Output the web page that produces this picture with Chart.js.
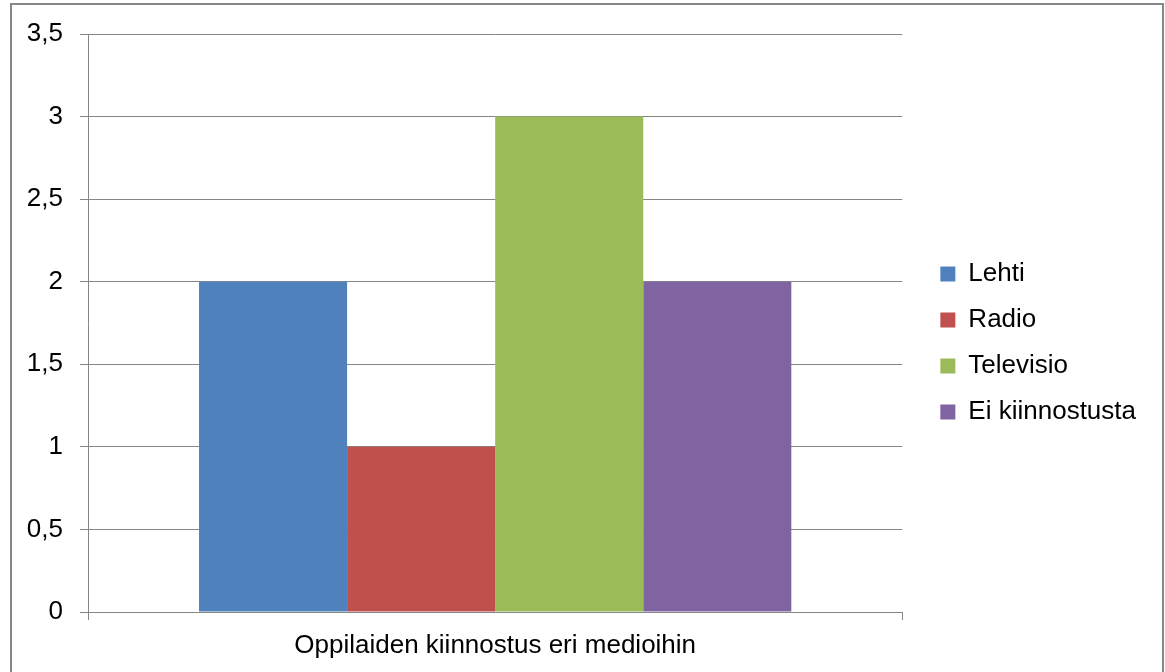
<!DOCTYPE html>
<html>
<head>
<meta charset="utf-8">
<script src="https://cdn.jsdelivr.net/npm/chart.js@4/dist/chart.umd.min.js"></script>
<style>
  html, body { margin: 0; padding: 0; background: #fff; }
  #wrap { position: relative; width: 1165px; height: 672px; overflow: hidden; }
  #frame { position: absolute; left: 10px; top: 3px; width: 1150px; height: 720px; border: 2px solid #878787; pointer-events: none; }
  canvas { position: absolute; left: 0; top: 0; }
</style>
</head>
<body>
<div id="wrap">
  <canvas id="chart" width="1165" height="672"></canvas>
  <div id="frame"></div>
</div>
<script>
const categories = ['Oppilaiden kiinnostus eri medioihin'];
const seriesNames = ['Lehti', 'Radio', 'Televisio', 'Ei kiinnostusta'];
const seriesValues = [[2], [1], [3], [2]];
const seriesColors = ['#4F81BD', '#C0504D', '#9BBB59', '#8064A2'];
const yTickLabels = ['0', '0,5', '1', '1,5', '2', '2,5', '3', '3,5'];

document.addEventListener('DOMContentLoaded', () => {
    const font = { family: "'Liberation Sans', Arial, sans-serif", size: 26 };
    const gridColor = '#868686';

    // move the legend a little, Chart.js puts it flush to the plot
    const legendShift = {
        id: 'legendShift',
        afterLayout(chart) {
            const lg = chart.legend;
            if (!lg) return;
            lg.left += 18; lg.right += 18;
            lg.top -= 10; lg.bottom -= 10;
        }
    };

    new Chart(document.getElementById('chart').getContext('2d'), {
        type: 'bar',
        data: {
            labels: categories,
            datasets: seriesNames.map((name, i) => ({
                label: name,
                data: seriesValues[i],
                backgroundColor: seriesColors[i],
                borderWidth: 0,
                categoryPercentage: 0.7273,
                barPercentage: 1.0
            }))
        },
        options: {
            responsive: false,
            animation: false,
            layout: { padding: { top: 34, right: 37, bottom: 0, left: 0 } },
            plugins: {
                tooltip: { enabled: false },
                legend: {
                    position: 'right',
                    labels: {
                        font: font,
                        color: '#000',
                        boxWidth: 15,
                        boxHeight: 15,
                        padding: 20
                    }
                }
            },
            scales: {
                x: {
                    afterFit: (s) => { s.height = 60; },
                    grid: {
                        offset: true,
                        drawOnChartArea: false,
                        drawTicks: true,
                        tickLength: 8,
                        color: gridColor,
                        lineWidth: 1
                    },
                    border: { display: true, color: gridColor, width: 1 },
                    ticks: { font: font, color: '#000', padding: 10, maxRotation: 0 }
                },
                y: {
                    min: 0,
                    max: 3.5,
                    afterFit: (s) => { s.width = 88; },
                    grid: { color: gridColor, lineWidth: 1, tickLength: 8 },
                    border: { display: true, color: gridColor, width: 1 },
                    ticks: {
                        stepSize: 0.5,
                        font: font,
                        color: '#000',
                        padding: 17,
                        callback: (v, i) => yTickLabels[i]
                    }
                }
            }
        },
        plugins: [legendShift]
    });
});
</script>
</body>
</html>
